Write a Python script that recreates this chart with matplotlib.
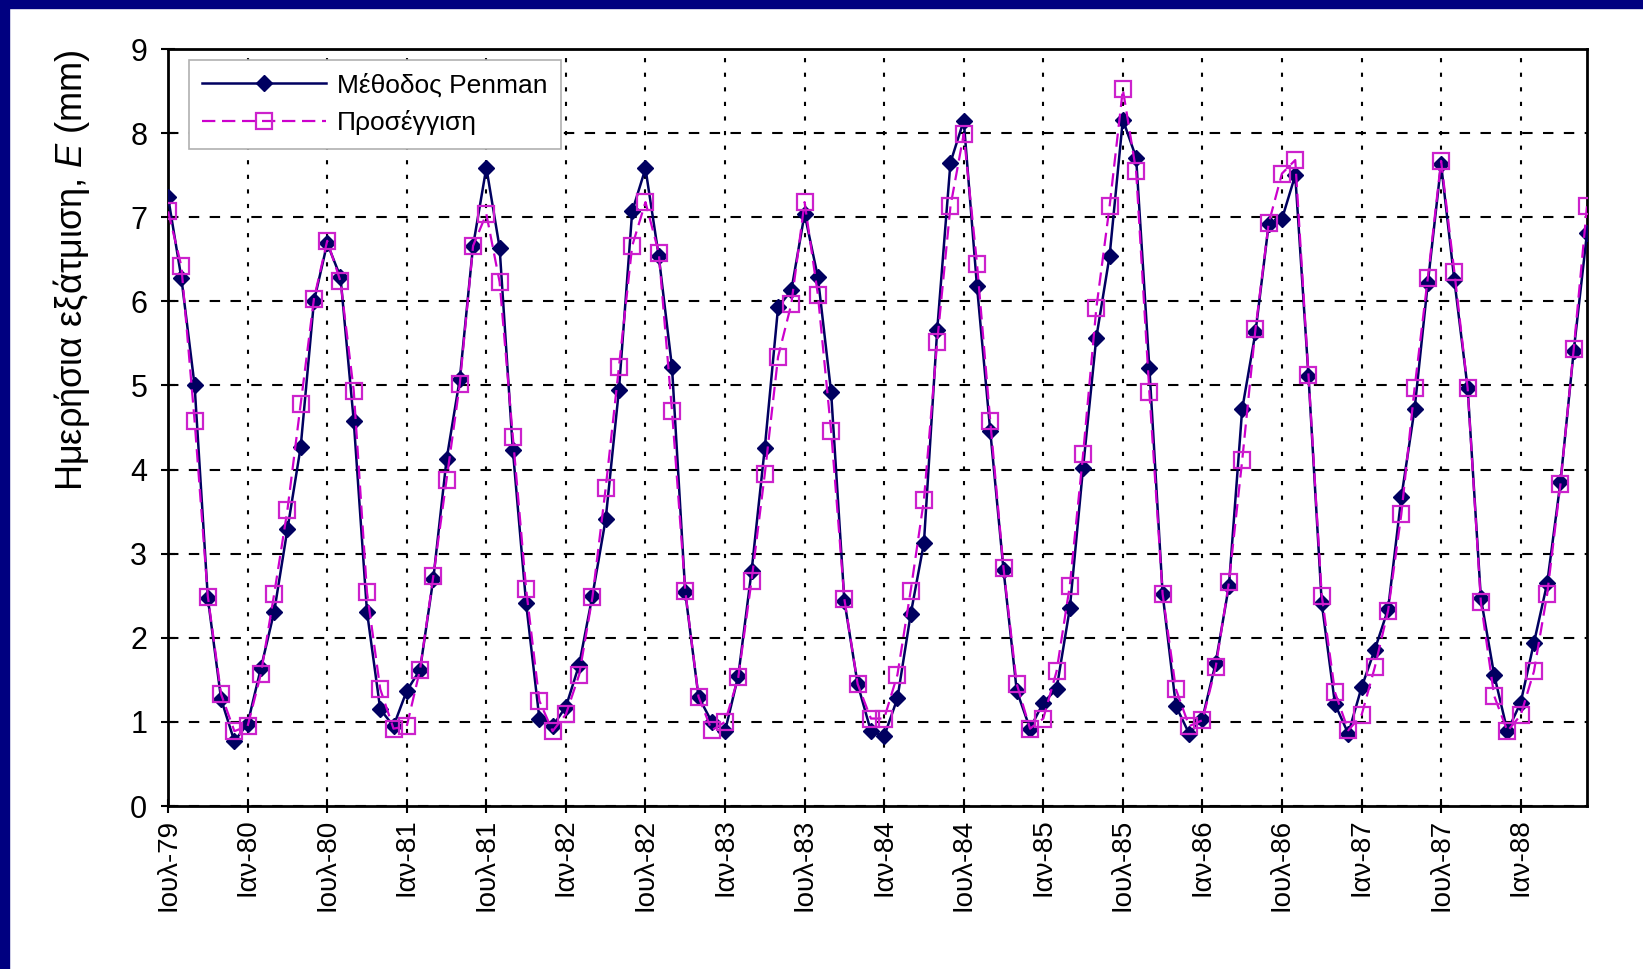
import matplotlib
matplotlib.use('Agg')
import matplotlib.pyplot as plt
from matplotlib.patches import Rectangle

# Μηνιαίες τιμές Ιούλ-79 ... Ιούν-88
penman = [7.24, 6.28, 5.00, 2.47, 1.27, 0.77, 0.98, 1.64, 2.31, 3.29, 4.27, 6.00,
          6.69, 6.29, 4.58, 2.31, 1.15, 0.95, 1.37, 1.62, 2.70, 4.12, 5.08, 6.66,
          7.59, 6.64, 4.23, 2.41, 1.04, 0.95, 1.18, 1.68, 2.50, 3.41, 4.95, 7.07,
          7.58, 6.54, 5.22, 2.54, 1.30, 1.00, 0.89, 1.55, 2.79, 4.26, 5.93, 6.13,
          7.04, 6.29, 4.92, 2.44, 1.45, 0.89, 0.83, 1.28, 2.28, 3.13, 5.66, 7.65,
          8.15, 6.18, 4.46, 2.81, 1.37, 0.92, 1.23, 1.39, 2.35, 4.02, 5.57, 6.54,
          8.16, 7.71, 5.21, 2.52, 1.19, 0.86, 1.04, 1.70, 2.62, 4.72, 5.63, 6.92,
          6.98, 7.50, 5.11, 2.41, 1.21, 0.86, 1.41, 1.86, 2.34, 3.67, 4.72, 6.22,
          7.63, 6.25, 4.97, 2.47, 1.56, 0.89, 1.23, 1.94, 2.65, 3.85, 5.41, 6.81]
approx = [7.07, 6.42, 4.58, 2.49, 1.33, 0.89, 0.95, 1.57, 2.52, 3.52, 4.78, 6.03,
          6.72, 6.24, 4.94, 2.54, 1.39, 0.92, 0.95, 1.62, 2.73, 3.88, 5.02, 6.66,
          7.04, 6.23, 4.39, 2.58, 1.25, 0.89, 1.09, 1.56, 2.48, 3.78, 5.22, 6.66,
          7.18, 6.58, 4.70, 2.56, 1.30, 0.90, 1.00, 1.53, 2.68, 3.95, 5.34, 5.97,
          7.18, 6.08, 4.46, 2.46, 1.45, 1.04, 1.04, 1.56, 2.56, 3.64, 5.52, 7.13,
          7.99, 6.45, 4.58, 2.83, 1.45, 0.92, 1.04, 1.60, 2.62, 4.18, 5.92, 7.13,
          8.52, 7.55, 4.92, 2.52, 1.39, 0.95, 1.02, 1.65, 2.66, 4.11, 5.67, 6.93,
          7.52, 7.68, 5.12, 2.50, 1.35, 0.90, 1.08, 1.65, 2.32, 3.47, 4.97, 6.28,
          7.67, 6.35, 4.97, 2.42, 1.31, 0.89, 1.08, 1.60, 2.52, 3.83, 5.43, 7.13]
tick_labels = ['Ιουλ-79', 'Ιαν-80', 'Ιουλ-80', 'Ιαν-81', 'Ιουλ-81', 'Ιαν-82',
               'Ιουλ-82', 'Ιαν-83', 'Ιουλ-83', 'Ιαν-84', 'Ιουλ-84', 'Ιαν-85',
               'Ιουλ-85', 'Ιαν-86', 'Ιουλ-86', 'Ιαν-87', 'Ιουλ-87', 'Ιαν-88']

plt.rcParams['font.family'] = ['Liberation Sans', 'DejaVu Sans']
plt.rcParams['mathtext.fontset'] = 'custom'
plt.rcParams['mathtext.it'] = 'Liberation Sans:italic'
plt.rcParams['mathtext.rm'] = 'Liberation Sans'

months = list(range(len(penman)))

fig = plt.figure(figsize=(16.43, 9.69), dpi=100)
fig.patch.set_facecolor('white')
# σκούρο μπλε πλαίσιο πάνω και αριστερά
fig.patches.append(Rectangle((0, 1 - 8 / 969), 1, 8 / 969, transform=fig.transFigure,
                             color='#000080', zorder=0))
fig.patches.append(Rectangle((0, 0), 9 / 1643, 1, transform=fig.transFigure,
                             color='#000080', zorder=0))

ax = fig.add_axes([0.1023, 0.1682, 0.8636, 0.7812])

ax.plot(months, penman, color='#000060', lw=1.8, marker='D', markersize=8,
        markerfacecolor='#000060', markeredgecolor='#000060', label='Μέθοδος Penman', zorder=3)
ax.plot(months, approx, color='#cc00cc', lw=1.6, linestyle=(0, (6, 3)), marker='s',
        markersize=11, markerfacecolor='none', markeredgecolor='#cc22cc', markeredgewidth=1.6,
        label='Προσέγγιση', zorder=4)

ax.set_xlim(0, len(penman) - 1)
ax.set_ylim(0, 9)
ax.set_yticks(range(0, 10))
ax.set_xticks(range(0, len(penman), 6))
ax.set_xticklabels(tick_labels, rotation=90)

ax.yaxis.grid(True, color='black', linestyle=(0, (5, 5)), lw=1.5)
ax.xaxis.grid(True, color='black', linestyle=(0, (2, 5)), lw=1.5)
ax.set_axisbelow(True)

for s in ax.spines.values():
    s.set_linewidth(2)
    s.set_color('black')
ax.tick_params(axis='both', direction='inout', length=10, width=1.5, colors='black')
ax.tick_params(axis='y', labelsize=22, pad=10)
ax.tick_params(axis='x', labelsize=20, pad=4)

ax.text(-0.068, 1.0, 'Ημερήσια εξάτμιση, $\\it{E}$ (mm)', transform=ax.transAxes,
        rotation=90, ha='center', va='top', fontsize=26)

leg = ax.legend(loc='upper left', bbox_to_anchor=(0.0148, 0.986), borderaxespad=0,
                fontsize=19, handlelength=4.7, handletextpad=0.4, fancybox=False,
                framealpha=1, edgecolor='#b0b0b0', borderpad=0.5, labelspacing=0.5)
leg.get_frame().set_linewidth(1.2)

fig.savefig('out.png', dpi=100)
